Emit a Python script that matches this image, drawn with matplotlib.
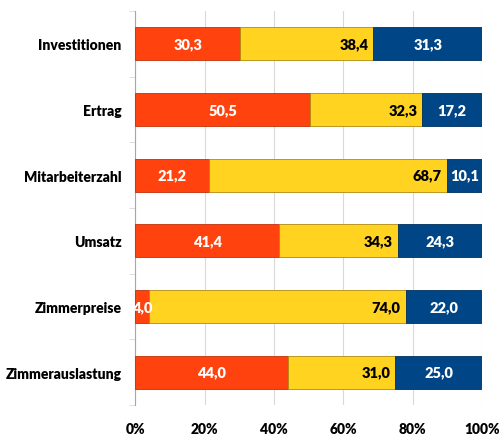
import matplotlib
matplotlib.use("Agg")
import matplotlib.pyplot as plt
import numpy as np

plt.rcParams['font.family'] = ['Lato', 'DejaVu Sans']
plt.rcParams['font.weight'] = 'heavy'

categories = ['Investitionen', 'Ertrag', 'Mitarbeiterzahl', 'Umsatz', 'Zimmerpreise', 'Zimmerauslastung']
teil_a = [30.3, 50.5, 21.2, 41.4, 4.0, 44.0]
teil_b = [38.4, 32.3, 68.7, 34.3, 74.0, 31.0]
teil_c = [31.3, 17.2, 10.1, 24.3, 22.0, 25.0]
colors = ['#FF420E', '#FFD320', '#004586']
edges = ['#c0300a', '#b08a10', '#00305e']

def fmt(v):
    return f"{v:.1f}".replace('.', ',')

fig = plt.figure(figsize=(4.99, 4.39), dpi=100)
ax = fig.add_axes([0.271, 0.075, 0.695, 0.898])

y = np.arange(len(categories))[::-1]
h = 0.5
left = np.zeros(len(categories))
for vals, col, ec in zip([teil_a, teil_b, teil_c], colors, edges):
    ax.barh(y, vals, left=left, height=h, color=col, edgecolor=ec, linewidth=0.6, zorder=3)
    for yi, l, v in zip(y, left, vals):
        if col == colors[1]:
            ax.text(l + v - 1.5, yi, fmt(v), ha='right', va='center', color='black',
                    fontsize=10.5, fontweight='heavy', zorder=4)
        else:
            ax.text(l + v / 2, yi, fmt(v), ha='center', va='center', color='white',
                    fontsize=10.5, fontweight='heavy', zorder=4, clip_on=True)
    left = left + np.array(vals)

ax.set_xlim(0, 100)
ax.set_ylim(-0.5, len(categories) - 0.5)
ax.set_xticks(np.arange(0, 101, 20))
ax.set_xticklabels([f"{t}%" for t in range(0, 101, 20)], fontsize=10, fontweight='heavy')
ax.set_yticks(y)
ax.set_yticklabels(categories, fontsize=10, fontweight='heavy')
ax.set_yticks(np.arange(-0.5, len(categories), 1), minor=True)
ax.tick_params(axis='y', which='major', length=0, pad=10)
ax.tick_params(axis='y', which='minor', length=4, color='#d9d9d9')
ax.tick_params(axis='x', length=0, pad=12)
ax.grid(axis='x', color='#d9d9d9', linewidth=0.8, zorder=0)
for s in ['top', 'right', 'bottom']:
    ax.spines[s].set_visible(False)
ax.spines['left'].set_color('#a6a6a6')

fig.savefig('out.png', dpi=100)
